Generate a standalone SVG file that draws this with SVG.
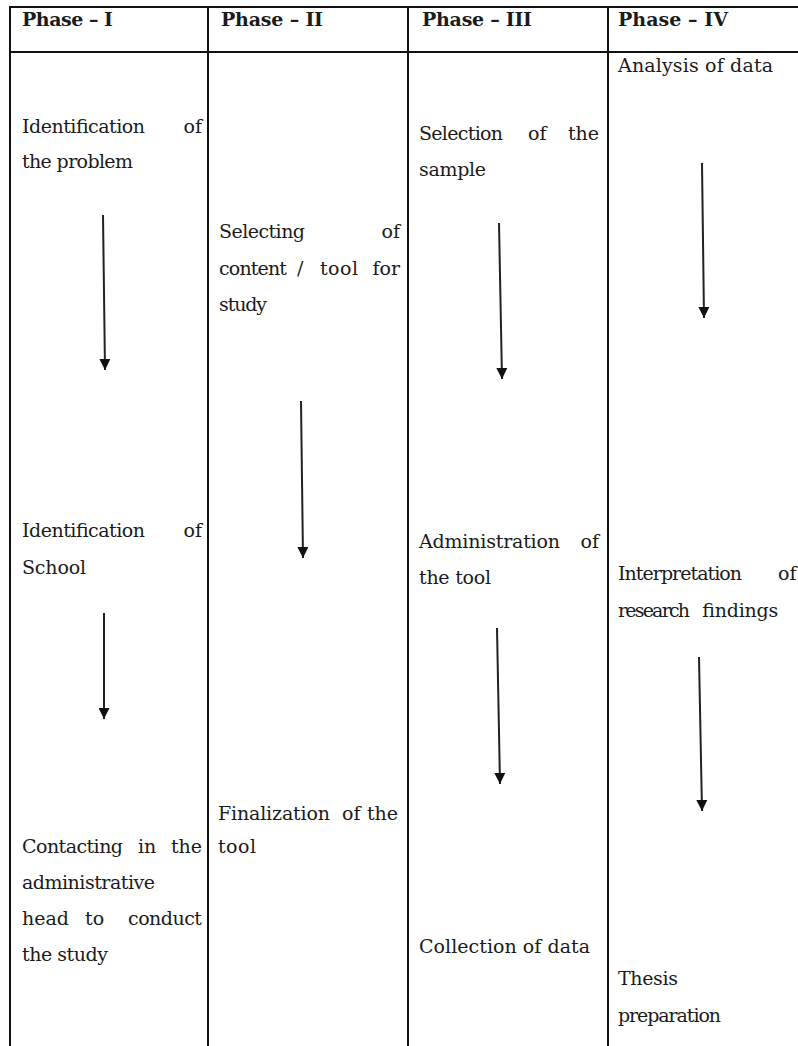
<svg xmlns="http://www.w3.org/2000/svg" width="798" height="1046" viewBox="0 0 798 1046">
<style>
text{font-family:"DejaVu Serif","Liberation Serif",serif;font-size:19px;fill:#1b1b1b}
.h{font-weight:bold;font-size:19px}
.e{text-anchor:end}
.grid{stroke:#111;stroke-width:2;fill:none}
.arr{stroke:#222;stroke-width:2;fill:none;marker-end:url(#ah)}
</style>
<defs>
<marker id="ah" viewBox="0 0 10 10" refX="10" refY="5" markerWidth="11" markerHeight="11" markerUnits="userSpaceOnUse" orient="auto">
<path d="M0,0 L10,5 L0,10 z" fill="#111"/>
</marker>
</defs>
<rect width="798" height="1046" fill="#fff"/>
<g id="table" class="grid">
<line x1="10" y1="7" x2="798" y2="7"/>
<line x1="10" y1="52" x2="798" y2="52"/>
<line x1="10" y1="6" x2="10" y2="1046"/>
<line x1="208" y1="6" x2="208" y2="1046"/>
<line x1="408" y1="6" x2="408" y2="1046"/>
<line x1="608" y1="6" x2="608" y2="1046"/>
</g>
<g id="headers">
<text class="h" x="22" y="26" textLength="91">Phase – I</text>
<text class="h" x="221" y="26" textLength="102">Phase – II</text>
<text class="h" x="422" y="26" textLength="110">Phase – III</text>
<text class="h" x="618" y="26" textLength="110">Phase – IV</text>
</g>
<g id="n1">
<text x="22" y="133" textLength="123">Identification</text><text class="e" x="202" y="133">of</text>
<text x="22" y="168" textLength="111">the problem</text>
</g>
<g id="n2">
<text x="22" y="537" textLength="123">Identification</text><text class="e" x="202" y="537">of</text>
<text x="22" y="574" textLength="64">School</text>
</g>
<g id="n3">
<text x="22" y="853" textLength="101">Contacting</text><text x="138" y="853">in</text><text class="e" x="202" y="853">the</text>
<text x="22" y="889" textLength="133">administrative</text>
<text x="22" y="925">head</text><text x="85" y="925">to</text><text class="e" x="202" y="925" textLength="74">conduct</text>
<text x="22" y="961" textLength="86">the study</text>
</g>
<g id="n4">
<text x="219" y="238" textLength="86">Selecting</text><text class="e" x="400" y="238">of</text>
<text x="219" y="275" textLength="68">content</text><text x="297" y="275">/</text><text x="320" y="275" textLength="38">tool</text><text class="e" x="400" y="275">for</text>
<text x="219" y="311" textLength="48">study</text>
</g>
<g id="n5">
<text x="218" y="820" textLength="112">Finalization</text><text x="342" y="820">of</text><text class="e" x="398" y="820">the</text>
<text x="218" y="853" textLength="38">tool</text>
</g>
<g id="n6">
<text x="419" y="140" textLength="84">Selection</text><text x="528" y="140">of</text><text class="e" x="599" y="140">the</text>
<text x="419" y="176" textLength="67">sample</text>
</g>
<g id="n7">
<text x="419" y="548" textLength="141">Administration</text><text class="e" x="599" y="548">of</text>
<text x="419" y="584" textLength="72">the tool</text>
</g>
<g id="n8">
<text x="419" y="953" textLength="171">Collection of data</text>
</g>
<g id="n9">
<text x="618" y="72" textLength="155">Analysis of data</text>
</g>
<g id="n10">
<text x="618" y="580" textLength="124">Interpretation</text><text x="778" y="580">of</text>
<text x="618" y="617" textLength="72">research</text><text x="702" y="617" textLength="76">findings</text>
</g>
<g id="n11">
<text x="618" y="985" textLength="60">Thesis</text>
<text x="618" y="1022" textLength="103">preparation</text>
</g>
<g id="connectors">
<line class="arr" x1="103" y1="215" x2="105" y2="370"/>
<line class="arr" x1="104" y1="613" x2="104" y2="719"/>
<line class="arr" x1="301" y1="401" x2="303" y2="558"/>
<line class="arr" x1="499" y1="223" x2="502" y2="379"/>
<line class="arr" x1="497" y1="628" x2="500" y2="784"/>
<line class="arr" x1="702" y1="163" x2="704" y2="318"/>
<line class="arr" x1="699" y1="657" x2="702" y2="811"/>
</g>
</svg>
